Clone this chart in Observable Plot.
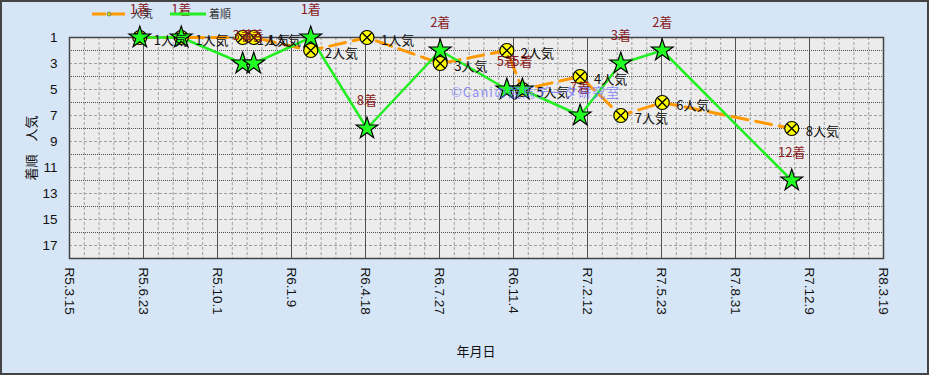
<!DOCTYPE html>
<html><head><meta charset="utf-8">
<script src="https://cdn.jsdelivr.net/npm/d3@7"></script>
<script src="https://cdn.jsdelivr.net/npm/@observablehq/plot@0.6"></script>
<style>
body{margin:0;}
#wrap{position:relative;width:929px;height:375px;background:#d7e6f7;overflow:hidden;}
#wrap svg.chart{display:block;outline:2px solid #444;outline-offset:-2px;}
#legend{position:absolute;left:0;top:0;}
#wm{position:absolute;left:451px;top:82px;font:13px "Noto Sans CJK JP",sans-serif;letter-spacing:1px;color:rgba(110,110,255,0.75);white-space:nowrap;}
.ttl{position:absolute;font:13px "Noto Sans CJK JP",sans-serif;color:#111;white-space:nowrap;}
#ylab{left:30px;top:148px;transform:translate(-50%,-50%) rotate(-90deg);}
#xlab{left:476px;top:350px;transform:translate(-50%,-50%);}
</style></head>
<body><div id="wrap"></div>
<script>
// ---- data ----
const raceDates = ["2023-06-18","2023-08-13","2023-11-04","2023-11-19","2024-02-04","2024-04-20","2024-07-28","2024-10-26","2024-11-16","2025-02-02","2025-03-29","2025-05-24","2025-11-15"];
const popularity = [1,1,1,1,2,1,3,2,5,4,7,6,8];
const finish = [1,1,3,3,1,8,2,5,5,7,3,2,12];
const tickDates = ["2023-03-15","2023-06-23","2023-10-01","2024-01-09","2024-04-18","2024-07-27","2024-11-04","2025-02-12","2025-05-23","2025-08-31","2025-12-09","2026-03-19"];
const tickLabels = ["R5.3.15","R5.6.23","R5.10.1","R6.1.9","R6.4.18","R6.7.27","R6.11.4","R7.2.12","R7.5.23","R7.8.31","R7.12.9","R8.3.19"];
const yTicks = [1,3,5,7,9,11,13,15,17];
const xTitle = "年月日";
const yTitle = "着順　人気";

const parse = d3.timeParse("%Y-%m-%d");
const rows = raceDates.map((d,i)=>({date:parse(d), pop:popularity[i], fin:finish[i]}));
const ticks = tickDates.map(parse);
const labelMap = new Map(ticks.map((t,i)=>[+t, tickLabels[i]]));
const start = ticks[0], end = ticks[ticks.length-1];
const minor = d3.timeDay.range(start, end, 20).filter(d=>!labelMap.has(+d));
const yMinor = d3.range(2,18).filter(v=>v%2===1);
const yMajor = d3.range(2,18).filter(v=>v%2===0);

const font = '"Liberation Sans","Noto Sans CJK JP",sans-serif';
const jp = '"Noto Sans CJK JP",sans-serif';

const chart = Plot.plot({
  width: 929, height: 375,
  marginLeft: 69, marginRight: 46, marginTop: 37, marginBottom: 117,
  style: {background:"transparent", fontFamily: font, fontSize: "13.5px", color:"#111"},
  x: {type:"time", domain:[start,end], ticks: ticks, tickFormat: d=>labelMap.get(+d), tickRotate: 90,
      tickSize: 0, tickPadding: 9, label: null},
  y: {domain:[1,18], reverse:true, ticks: yTicks, tickSize: 0, tickPadding: 12, label: null},
  marks: [
    Plot.frame({fill:"#ececec"}),
    Plot.ruleX(minor, {stroke:"#a0a0a0", strokeWidth:1, strokeDasharray:"3,2"}),
    Plot.ruleY(yMinor, {stroke:"#a0a0a0", strokeWidth:1, strokeDasharray:"3,2"}),
    Plot.ruleY(yMajor, {stroke:"#505050", strokeWidth:1, strokeDasharray:"1,1"}),
    Plot.ruleX(ticks, {stroke:"#505050", strokeWidth:1}),
    Plot.frame({stroke:"#444", strokeWidth:1.5}),
    Plot.line(rows, {x:"date", y:"pop", stroke:"#ff9900", strokeWidth:3, strokeDasharray:"16,8"}),
    Plot.line(rows, {x:"date", y:"fin", stroke:"#22ee22", strokeWidth:2.5}),
    Plot.dot(rows, {x:"date", y:"pop", r:7, fill:"#ffff00", stroke:"#000", strokeWidth:1.2}),
    Plot.dot(rows, {x:"date", y:"pop", symbol:"times", r:4.2, stroke:"#000", strokeWidth:1.3}),
    Plot.dot(rows, {x:"date", y:"fin", symbol:"star", r:6.8, fill:"#22ff22", stroke:"#000", strokeWidth:1.2}),
    Plot.text(rows, {x:"date", y:"pop", text:d=>d.pop+"人気", dx:14, dy:3, textAnchor:"start", fontSize:13, fill:"#111", fontFamily:jp}),
    Plot.text(rows, {x:"date", y:"fin", text:d=>d.fin+"着", dy:-28, fontSize:13, fill:"#8b1a1a", fontFamily:jp})
  ]
});
chart.classList.add("chart");
const wrap = document.getElementById("wrap");
wrap.appendChild(chart);

const wm = document.createElement("div");
wm.id = "wm"; wm.textContent = "©Caniの競馬データ研究室";
wrap.appendChild(wm);

for (const [id, txt] of [["xlab", xTitle], ["ylab", yTitle]]) {
  const el = document.createElement("div");
  el.id = id; el.className = "ttl"; el.textContent = txt;
  wrap.appendChild(el);
}

const lg = document.createElementNS("http://www.w3.org/2000/svg","svg");
lg.setAttribute("id","legend"); lg.setAttribute("width","260"); lg.setAttribute("height","30");
lg.innerHTML = `
<line x1="92" y1="14" x2="128" y2="14" stroke="#ff9900" stroke-width="3" stroke-dasharray="14,5"/>
<circle cx="109" cy="14" r="2" fill="#cccc00" stroke="#555" stroke-width="0.6"/>
<text x="131" y="18" font-size="11" fill="#333" font-family='"Noto Sans CJK JP",sans-serif'>人気</text>
<line x1="170" y1="14" x2="206" y2="14" stroke="#22ee22" stroke-width="3"/>
<text x="209" y="18" font-size="11" fill="#333" font-family='"Noto Sans CJK JP",sans-serif'>着順</text>`;
wrap.appendChild(lg);
</script></body></html>
